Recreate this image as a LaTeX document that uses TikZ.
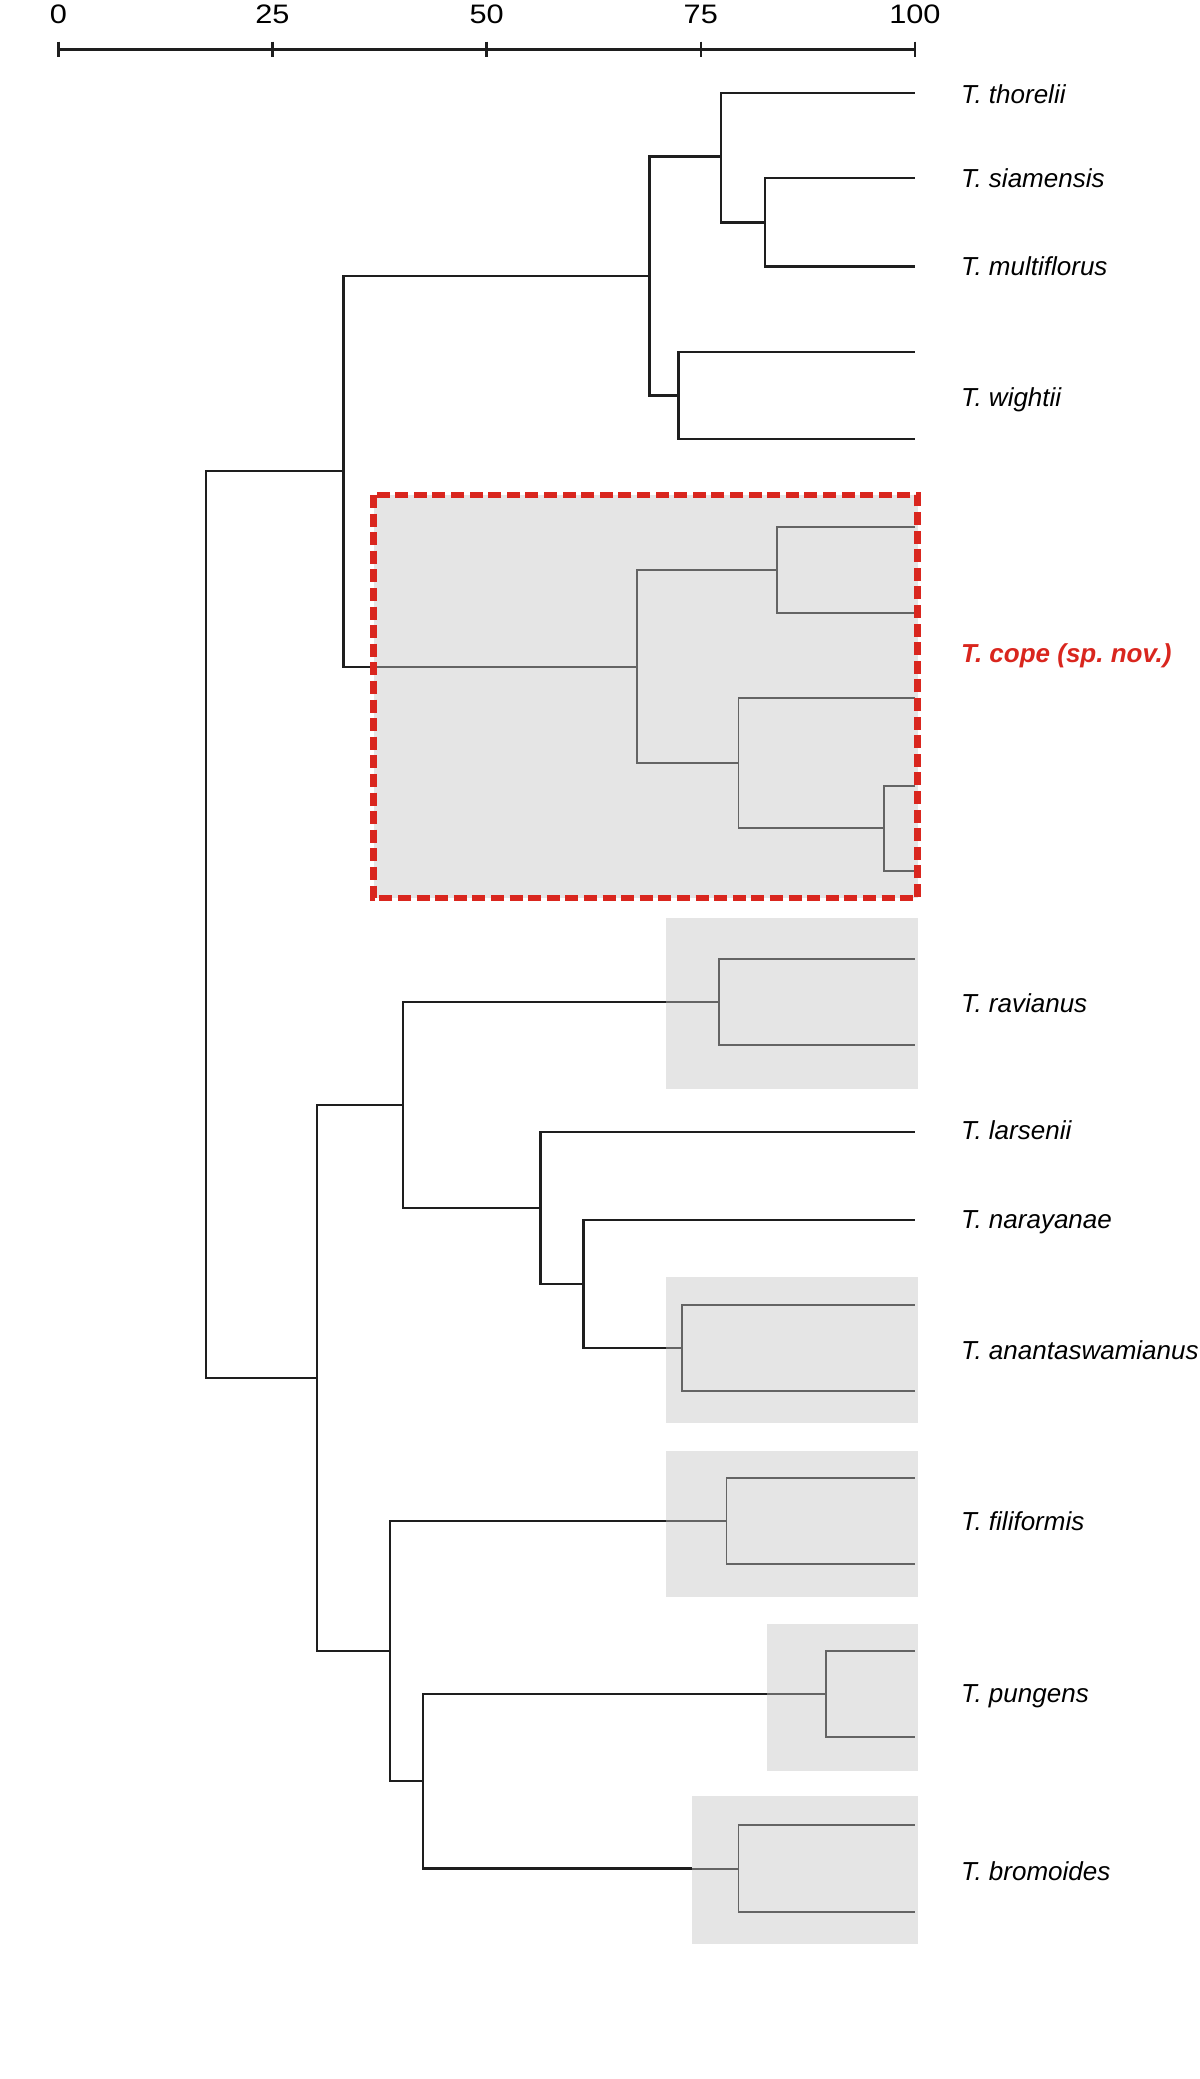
\documentclass[tikz,border=0pt]{standalone}
\usepackage{fontspec}
\setmainfont{Liberation Sans}
\frenchspacing
\definecolor{myred}{RGB}{217,38,30}
\definecolor{mygray}{RGB}{229,229,229}
\definecolor{mydark}{RGB}{100,100,100}
\definecolor{myblack}{RGB}{30,30,30}

\begin{document}
\begin{tikzpicture}[x=0.08566cm, y=-0.01326cm,
  branch/.style={draw=myblack, line width=0.65pt},
  inner/.style={draw=mydark, line width=0.55pt},
  clade/.style={fill=mygray},
  taxon/.style={anchor=base west, inner sep=0pt, font=\fontsize{7.4}{9}\selectfont\itshape},
  scalelbl/.style={anchor=base, inner sep=0pt, xscale=1.15, transform shape, font=\fontsize{7.6}{9}\selectfont}]
            \useasboundingbox (-6.811,0) rectangle (133.28,1568);

            \draw[branch, line width=0.7pt] (0,37.5) -- (100,37.5);
            \foreach \v in {0,25,50,75,100} {
                \draw[branch, line width=0.7pt] (\v,31.4) -- (\v,43.2);
                \node[scalelbl] (s\v) at (\v,17.8) {\v};
            }

            \foreach \xa/\ya/\yb in {36.8/373.3/677.5, 70.9/692.5/821.5, 70.9/963.3/1073, 70.9/1094.2/1204.7, 82.7/1224.8/1336, 74.0/1354.8/1465.8}
                \fill[clade] (\xa,\ya) rectangle (100.3,\yb);

            \coordinate (thor) at (100,70.4);
            \coordinate (siam) at (100,134.5);
            \coordinate (mult) at (100,201);
            \coordinate (wa) at (100,265.7);
            \coordinate (wb) at (100,331);
            \coordinate (ca) at (100,397.7);
            \coordinate (cb) at (100,462);
            \coordinate (cc) at (100,526.6);
            \coordinate (cd) at (100,592.5);
            \coordinate (ce) at (100,657);
            \coordinate (ra) at (100,723.2);
            \coordinate (rb) at (100,788);
            \coordinate (lars) at (100,853.7);
            \coordinate (nara) at (100,920);
            \coordinate (aa) at (100,984.4);
            \coordinate (ab) at (100,1048.8);
            \coordinate (fa) at (100,1115);
            \coordinate (fb) at (100,1179.3);
            \coordinate (pua) at (100,1245.2);
            \coordinate (pub) at (100,1310);
            \coordinate (bra) at (100,1376.2);
            \coordinate (brb) at (100,1442.3);

            \coordinate (sm) at (82.5,167.8);
            \coordinate (tsm) at (77.4,118);
            \coordinate (wi) at (72.4,298.4);
            \coordinate (tw) at (69.0,208.2);
            \coordinate (cA) at (83.9,429.9);
            \coordinate (cB) at (96.4,624.8);
            \coordinate (cC) at (79.4,575.7);
            \coordinate (cD) at (67.5,502.8);
            \coordinate (cin) at (36.8,502.8);
            \coordinate (up) at (33.3,355.5);
            \coordinate (rv) at (77.1,755.6);
            \coordinate (rvin) at (70.9,755.6);
            \coordinate (an) at (72.8,1016.6);
            \coordinate (anin) at (70.9,1016.6);
            \coordinate (na) at (61.3,968.3);
            \coordinate (la) at (56.3,911);
            \coordinate (rl) at (40.2,833.3);
            \coordinate (fi) at (78.0,1147.2);
            \coordinate (fiin) at (70.9,1147.2);
            \coordinate (pu) at (89.6,1277.6);
            \coordinate (puin) at (82.7,1277.6);
            \coordinate (br) at (79.4,1409.3);
            \coordinate (brin) at (74.0,1409.3);
            \coordinate (pbr) at (42.6,1343.4);
            \coordinate (fp) at (38.7,1245.3);
            \coordinate (lo) at (30.2,1039.3);
            \coordinate (root) at (17.2,697.4);

            \draw[branch] (sm) |- (siam) (sm) |- (mult) (tsm) |- (thor) (tsm) |- (sm)
                (wi) |- (wa) (wi) |- (wb) (tw) |- (tsm) (tw) |- (wi)
                (up) |- (tw) (up) |- (cin) (root) |- (up) (root) |- (lo);
            \draw[branch] (lo) |- (rl) (lo) |- (fp) (rl) |- (rvin) (rl) |- (la)
                (la) |- (lars) (la) |- (na) (na) |- (nara) (na) |- (anin)
                (fp) |- (fiin) (fp) |- (pbr) (pbr) |- (puin) (pbr) |- (brin);

            \draw[inner] (cin) -- (cD) (cD) |- (cA) (cD) |- (cC) (cA) |- (ca) (cA) |- (cb)
                (cC) |- (cc) (cC) |- (cB) (cB) |- (cd) (cB) |- (ce);
            \draw[inner] (rvin) -- (rv) (rv) |- (ra) (rv) |- (rb)
                (anin) -- (an) (an) |- (aa) (an) |- (ab)
                (fiin) -- (fi) (fi) |- (fa) (fi) |- (fb)
                (puin) -- (pu) (pu) |- (pua) (pu) |- (pub)
                (brin) -- (br) (br) |- (bra) (br) |- (brb);

            \draw[myred, line width=1.8pt, dash pattern=on 0.13cm off 0.056cm] (36.8,373.3) rectangle (100.3,677.5);

            \node[taxon] (tthor) at (105.3,78) {T. thorelii};
            \node[taxon] (tsiam) at (105.3,141.6) {T. siamensis};
            \node[taxon] (tmult) at (105.3,207.6) {T. multiflorus};
            \node[taxon] (twigh) at (105.3,306.6) {T. wightii};
            \node[taxon, font=\fontsize{7.4}{9}\selectfont\bfseries\itshape, text=myred] (tcope) at (105.3,499.6) {T. cope (sp. nov.)};
            \node[taxon] (travi) at (105.3,764) {T. ravianus};
            \node[taxon] (tlars) at (105.3,859.3) {T. larsenii};
            \node[taxon] (tnara) at (105.3,926.3) {T. narayanae};
            \node[taxon] (tanan) at (105.3,1025) {T. anantaswamianus};
            \node[taxon] (tfili) at (105.3,1154.4) {T. filiformis};
            \node[taxon] (tpung) at (105.3,1284.4) {T. pungens};
            \node[taxon] (tbrom) at (105.3,1418.3) {T. bromoides};
        \end{tikzpicture}
\end{document}
